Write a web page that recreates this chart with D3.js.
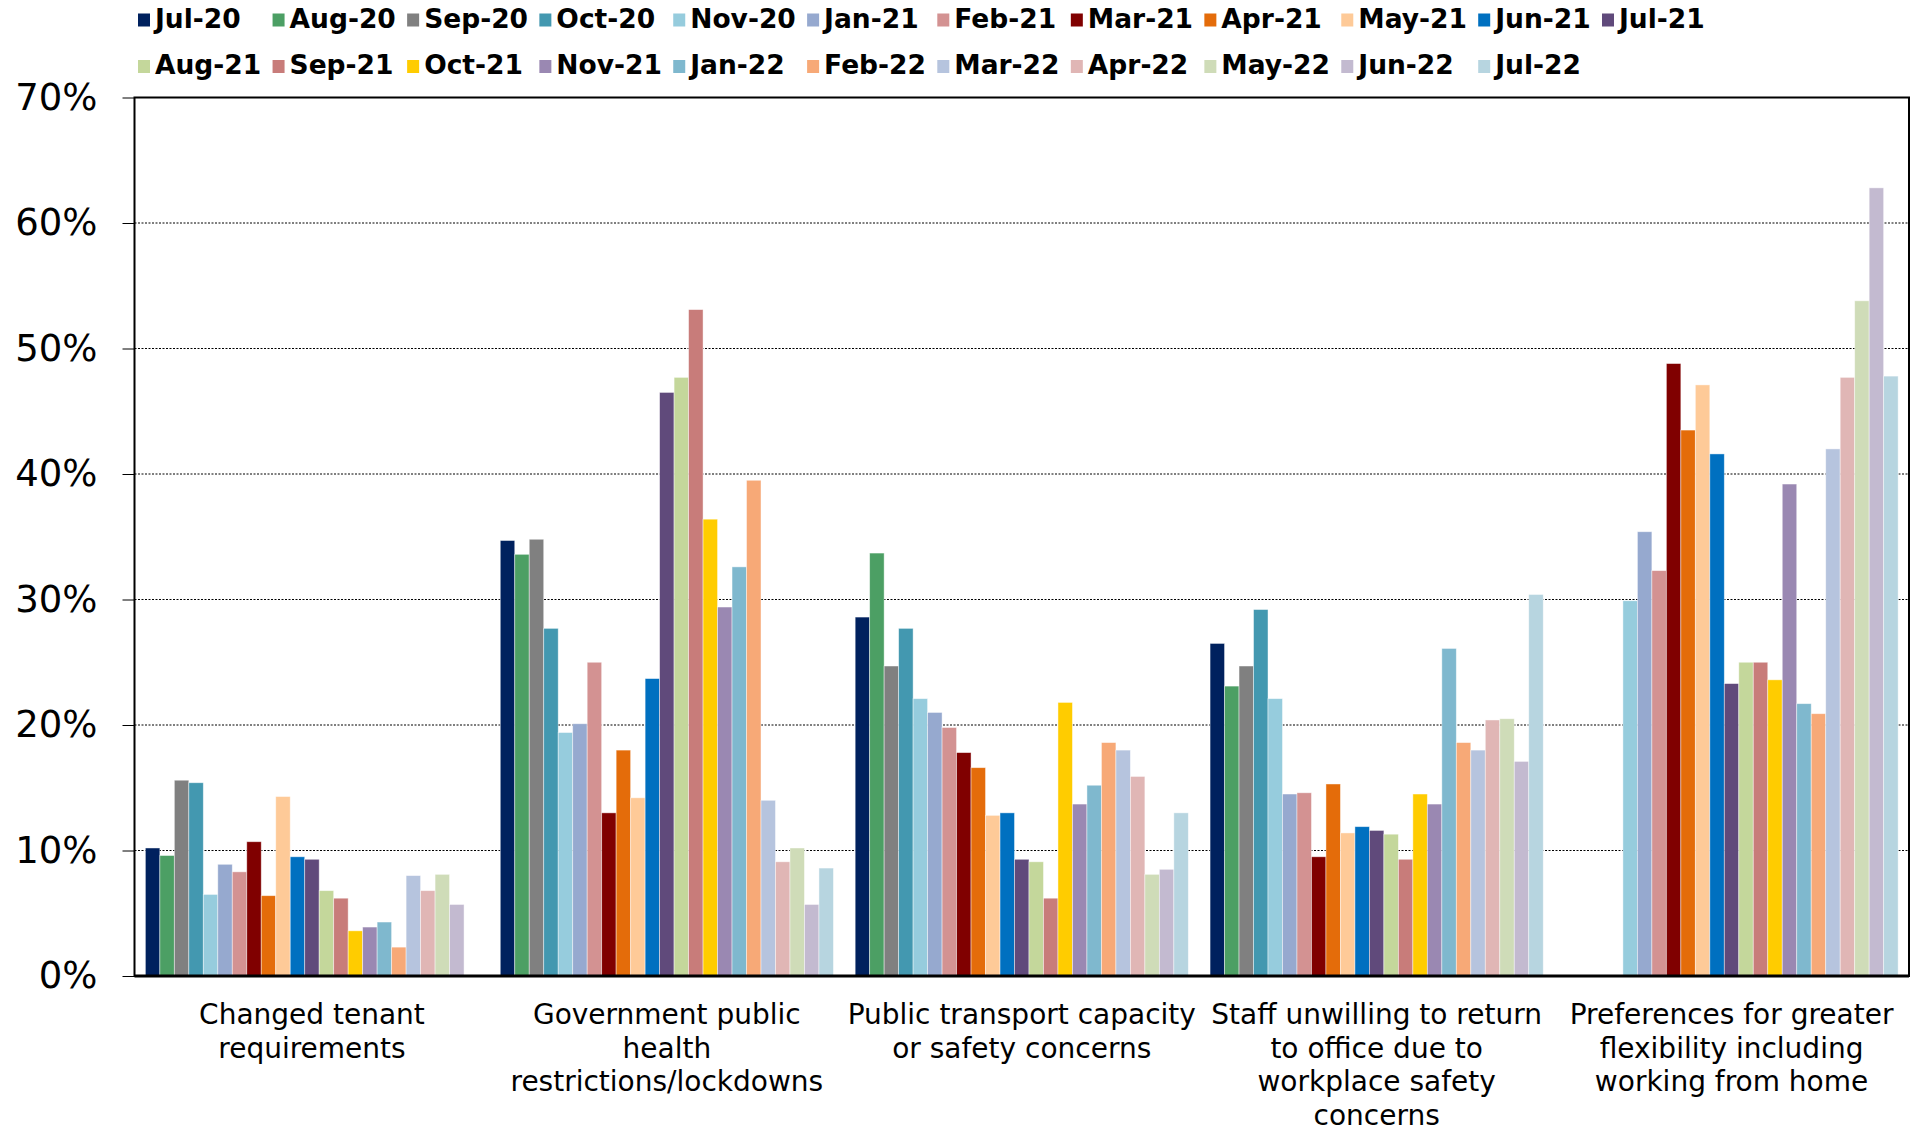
<!DOCTYPE html>
<html><head><meta charset="utf-8">
<script src="https://cdn.jsdelivr.net/npm/d3@7"></script>
<style>body{margin:0;background:#fff}svg{display:block}</style>
</head><body><svg id="chart" width="1918" height="1130"></svg>
<script>
// ---------- DATA ----------
const categories = ["Changed tenant requirements","Government public health restrictions/lockdowns","Public transport capacity or safety concerns","Staff unwilling to return to office due to workplace safety concerns","Preferences for greater flexibility including working from home"];
const categoryLines = [
  ["Changed tenant","requirements"],
  ["Government public","health","restrictions/lockdowns"],
  ["Public transport capacity","or safety concerns"],
  ["Staff unwilling to return","to office due to","workplace safety","concerns"],
  ["Preferences for greater","flexibility including","working from home"]
];
const seriesNames = ["Jul-20","Aug-20","Sep-20","Oct-20","Nov-20","Jan-21","Feb-21","Mar-21","Apr-21","May-21","Jun-21","Jul-21","Aug-21","Sep-21","Oct-21","Nov-21","Jan-22","Feb-22","Mar-22","Apr-22","May-22","Jun-22","Jul-22"];
const seriesColors = ["#00215E","#4C9F64","#808080","#4398B0","#96CCDD","#96A9CF","#D39292","#800000","#E46C0A","#FECA98","#0070C0","#604A7B","#C4D79B","#C87C7A","#FFCC00","#9A88B2","#7FB8CE","#F7A977","#B6C4DE","#E0B6B5","#CFDCB8","#C3BAD0","#B7D5E0"];
// values in %, one entry per series (null = not reported)
const changedTenant   = [10.2, 9.6,15.6,15.4, 6.5, 8.9, 8.3,10.7, 6.4,14.3, 9.5, 9.3, 6.8, 6.2, 3.6, 3.9, 4.3, 2.3, 8.0, 6.8, 8.1, 5.7, null];
const govRestrictions = [34.7,33.6,34.8,27.7,19.4,20.1,25.0,13.0,18.0,14.2,23.7,46.5,47.7,53.1,36.4,29.4,32.6,39.5,14.0, 9.1,10.2, 5.7, 8.6];
const publicTransport = [28.6,33.7,24.7,27.7,22.1,21.0,19.8,17.8,16.6,12.8,13.0, 9.3, 9.1, 6.2,21.8,13.7,15.2,18.6,18.0,15.9, 8.1, 8.5,13.0];
const staffUnwilling  = [26.5,23.1,24.7,29.2,22.1,14.5,14.6, 9.5,15.3,11.4,11.9,11.6,11.3, 9.3,14.5,13.7,26.1,18.6,18.0,20.4,20.5,17.1,30.4];
const flexibility     = [null,null,null,null,29.9,35.4,32.3,48.8,43.5,47.1,41.6,23.3,25.0,25.0,23.6,39.2,21.7,20.9,42.0,47.7,53.8,62.8,47.8];
const values = [changedTenant, govRestrictions, publicTransport, staffUnwilling, flexibility];
const yTicks = [0,10,20,30,40,50,60,70];
const legendRows = [seriesNames.slice(0,12), seriesNames.slice(12)];

// ---------- CHART ----------
const svg = d3.select("#chart");
const L = 134.5, R = 1909, T = 97.5, B = 976;
const y = d3.scaleLinear().domain([0,70]).range([B,T]);
const x0 = d3.scaleBand().domain(categories).range([L,R]).padding(0);
const x1 = d3.scaleBand().domain(seriesNames).range([0,x0.bandwidth()]).paddingInner(0).paddingOuter(0.75);
const color = d3.scaleOrdinal().domain(seriesNames).range(seriesColors);

// gridlines
svg.append("g").selectAll("line").data(yTicks.filter(t => t > 0 && t < 70)).join("line")
  .attr("x1", L).attr("x2", R).attr("y1", d => y(d)).attr("y2", d => y(d))
  .attr("stroke", "#000").attr("stroke-width", 1).attr("stroke-dasharray", "2,1.5");

// bars
const groups = svg.append("g").selectAll("g").data(categories).join("g")
  .attr("transform", d => `translate(${x0(d)},0)`);
groups.selectAll("rect")
  .data((c, i) => seriesNames.map((s, j) => ({s, v: values[i][j]})).filter(d => d.v != null))
  .join("rect")
  .attr("x", d => x1(d.s)).attr("width", x1.bandwidth())
  .attr("y", d => y(d.v)).attr("height", d => B - y(d.v))
  .attr("fill", d => color(d.s))
  .attr("stroke", "#fff").attr("stroke-opacity", 0.55).attr("stroke-width", 0.8);

// y axis
const yAxis = d3.axisLeft(y).tickValues(yTicks).tickFormat(d => d + "%").tickSize(12).tickPadding(25);
svg.append("g").attr("transform", `translate(${L},0)`).call(yAxis)
  .call(g => g.select(".domain").remove())
  .call(g => g.selectAll("line").attr("stroke", "#000"))
  .selectAll("text").attr("font-family", "DejaVu Sans").attr("font-size", 37).attr("fill", "#000");

// frame
svg.append("rect").attr("x", L).attr("y", T).attr("width", R - L).attr("height", B - T)
  .attr("fill", "none").attr("stroke", "#000").attr("stroke-width", 2);
svg.append("line").attr("x1", L).attr("x2", R).attr("y1", B).attr("y2", B)
  .attr("stroke", "#000").attr("stroke-width", 3);

// x category labels
const xl = svg.append("g").attr("font-family", "DejaVu Sans").attr("font-size", 28).attr("fill", "#000").attr("text-anchor", "middle");
categories.forEach((c, i) => {
  const cx = x0(c) + x0.bandwidth() / 2;
  categoryLines[i].forEach((ln, k) => {
    xl.append("text").attr("x", cx).attr("y", 1024 + k * 33.5).text(ln);
  });
});

// legend
const lg = svg.append("g").attr("font-family", "DejaVu Sans").attr("font-weight", "bold").attr("font-size", 26.5).attr("fill", "#000");
const meas = lg.append("text").attr("x", -1000).attr("y", -1000);
const tw = s => { meas.text(s); return meas.node().getComputedTextLength(); };
const nCols = 12, sq = 12, gapSq = 5, startX = 138, lastX = 1602;
const colW = d3.range(nCols - 1).map(c => sq + gapSq + d3.max(legendRows, r => r[c] ? tw(r[c]) : 0));
const spacing = (lastX - startX - d3.sum(colW)) / (nCols - 1);
const colX = [startX];
for (let c = 1; c < nCols; c++) colX.push(colX[c - 1] + colW[c - 1] + spacing);
meas.remove();
const rowBase = [27.5, 74];
legendRows.forEach((row, r) => {
  row.forEach((s, c) => {
    lg.append("rect").attr("x", colX[c]).attr("y", rowBase[r] - 14).attr("width", sq).attr("height", 13).attr("fill", color(s));
    lg.append("text").attr("x", colX[c] + sq + gapSq).attr("y", rowBase[r]).text(s);
  });
});
</script>
</body></html>
